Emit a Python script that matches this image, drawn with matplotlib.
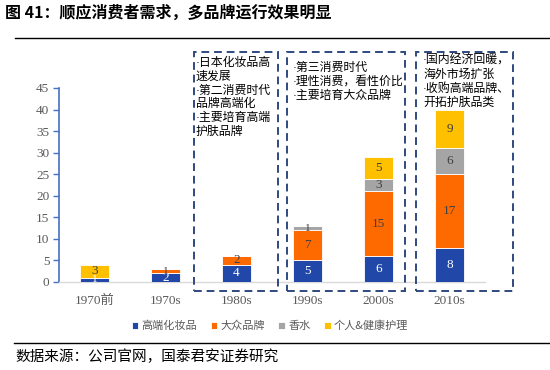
import numpy as np
import matplotlib
matplotlib.use("Agg")
import matplotlib.pyplot as plt
from matplotlib.patches import Rectangle

CJK = ["Noto Sans CJK SC", "DejaVu Sans"]
SERIF = ["Liberation Serif", "Noto Sans CJK SC"]
NOTE = ["Liberation Sans", "Noto Sans CJK SC"]  # narrow middle dot, CJK glyphs from Noto
plt.rcParams["font.family"] = CJK

categories = ["1970前", "1970s", "1980s", "1990s", "2000s", "2010s"]
series_names = ["高端化妆品", "大众品牌", "香水", "个人&健康护理"]
high_end = [1, 2, 4, 5, 6, 8]
mass = [0, 1, 2, 7, 15, 17]
perfume = [0, 0, 0, 1, 3, 6]
personal = [3, 0, 0, 0, 5, 9]
colors = ["#2147A8", "#FF6A00", "#A5A5A5", "#FFC000"]
label_colors = ["white", "#404040", "#404040", "#404040"]

box_notes = [
    (1.40, 2.58, "·日本化妆品高\n速发展\n·第二消费时代\n品牌高端化\n·主要培育高端\n护肤品牌"),
    (2.71, 4.37, "·第三消费时代\n·理性消费，看性价比\n·主要培育大众品牌"),
    (4.53, 5.89, "·国内经济回暖，\n海外市场扩张\n·收购高端品牌、\n开拓护肤品类"),
]

fig = plt.figure(figsize=(5.5, 3.7), dpi=100)
ax = fig.add_axes([59 / 550, 88 / 370, 426 / 550, 194 / 370])

x = np.arange(len(categories))
bottom = np.zeros(len(categories))
for vals, col, lc, name in zip([high_end, mass, perfume, personal], colors, label_colors, series_names):
    vals = np.array(vals, dtype=float)
    ax.bar(x, vals, 0.4, bottom=bottom, color=col, edgecolor="white",
           linewidth=0.6, label=name, zorder=3)
    for xi, v, b in zip(x, vals, bottom):
        if v > 0:
            ax.text(xi, b + v / 2, f"{int(v)}", ha="center", va="center",
                    color=lc, fontsize=9.5 if v > 1 else 8, family=SERIF, zorder=4)
    bottom += vals

ax.set_xlim(-0.5, 5.5)
ax.set_ylim(0, 45)
ax.set_yticks(range(0, 46, 5))
ax.set_xticks(x)
ax.set_xticklabels(categories, family=SERIF, fontsize=9.5, color="#595959")
for t in ax.get_yticklabels():
    t.set_family(SERIF)
    t.set_fontsize(9.5)
    t.set_color("#595959")
ax.tick_params(axis="x", length=0, pad=9)
ax.tick_params(axis="y", direction="out", length=4, color="#4472C4", width=1, pad=3)
for s in ["top", "right"]:
    ax.spines[s].set_visible(False)
ax.spines["left"].set_color("#4472C4")
ax.spines["left"].set_linewidth(1.2)
ax.spines["bottom"].set_color("#D9D9D9")
ax.spines["bottom"].set_linewidth(1)

# dashed annotation boxes
for x0, x1, note in box_notes:
    rect = Rectangle((x0, -2.1), x1 - x0, 55.5, fill=False, edgecolor="#2F4A80",
                     linestyle=(0, (4, 2.5)), linewidth=1.4, clip_on=False, zorder=5)
    ax.add_patch(rect)

note_pos = [(196, 57), (293, 62), (423, 55)]
for (px, py), (_, _, note) in zip(note_pos, box_notes):
    fig.text(px / 550, 1 - py / 370, note, ha="left", va="top", fontsize=8.6,
             linespacing=1.2, color="black", family=NOTE)

leg = fig.legend(loc="center", bbox_to_anchor=(270 / 550, 1 - 326 / 370), ncol=4,
                 frameon=False, fontsize=8, handlelength=0.6, handleheight=0.6,
                 handletextpad=0.3, columnspacing=1.2)
for t in leg.get_texts():
    t.set_color("#595959")

# title and source
fig.text(5 / 550, 1 - 13 / 370, "图 41：顺应消费者需求，多品牌运行效果明显", ha="left", va="center",
         fontsize=11.5, fontweight="bold", color="black")
fig.add_artist(plt.Line2D([15 / 550, 1], [1 - 38 / 370] * 2, color="black", linewidth=1))
fig.add_artist(plt.Line2D([14 / 550, 1], [1 - 343 / 370] * 2, color="black", linewidth=1))
fig.text(15 / 550, 1 - 357 / 370, "数据来源：公司官网，国泰君安证券研究", ha="left", va="center",
         fontsize=10.5, color="black")

fig.savefig("out.png", dpi=100)
